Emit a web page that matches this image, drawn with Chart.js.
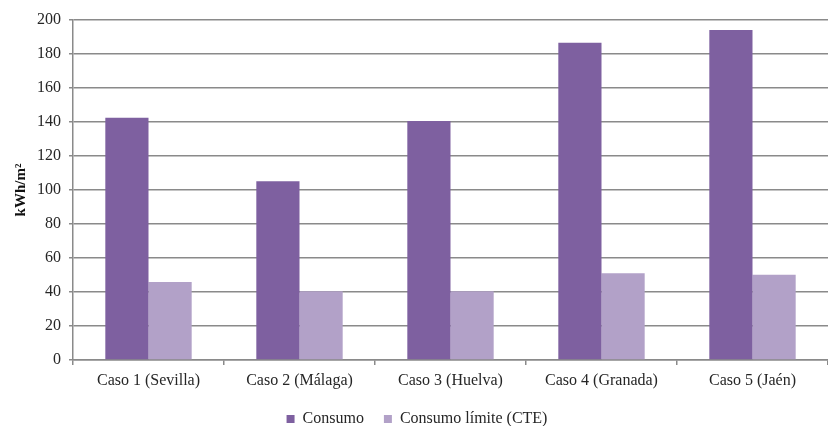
<!DOCTYPE html>
<html>
<head>
<meta charset="utf-8">
<script src="https://cdn.jsdelivr.net/npm/chart.js@4/dist/chart.umd.min.js"></script>
<style>
  html, body { margin: 0; padding: 0; background: #fff; }
  canvas { display: block; }
</style>
</head>
<body>
<canvas id="c" width="828" height="426"></canvas>
<script>
// Consumo energético por caso frente al límite del CTE (kWh/m²)
const categories = ['Caso 1 (Sevilla)', 'Caso 2 (Málaga)', 'Caso 3 (Huelva)', 'Caso 4 (Granada)', 'Caso 5 (Jaén)'];
const consumo = [142.5, 105.2, 140.6, 186.6, 194.1];
const consumoLimite = [45.9, 40.5, 40.5, 51.0, 50.2];
const yTicks = [0, 20, 40, 60, 80, 100, 120, 140, 160, 180, 200];

const serif = "'Liberation Serif', 'Times New Roman', serif";
const gridColor = '#8a8a8a';
const textColor = '#262626';

new Chart(document.getElementById('c'), {
  type: 'bar',
  data: {
    labels: categories,
    datasets: [
      { label: 'Consumo', data: consumo, backgroundColor: '#7E60A0', borderWidth: 0 },
      { label: 'Consumo límite (CTE)', data: consumoLimite, backgroundColor: '#B2A1C8', borderWidth: 0 }
    ]
  },
  options: {
    responsive: false,
    animation: false,
    devicePixelRatio: 1,
    // the plot runs slightly past the right edge of the canvas
    layout: { padding: { top: 20, right: -6, bottom: -11, left: 0 } },
    datasets: { bar: { barPercentage: 1.0, categoryPercentage: 0.572 } },
    plugins: {
      tooltip: { enabled: false },
      legend: {
        position: 'bottom',
        labels: {
          font: { family: serif, size: 16 },
          color: textColor,
          boxWidth: 8,
          boxHeight: 8,
          padding: 20
        }
      }
    },
    scales: {
      x: {
        grid: {
          offset: true,
          drawOnChartArea: false,
          drawTicks: true,
          tickLength: 5,
          color: gridColor,
          lineWidth: 1.5
        },
        border: { color: gridColor, width: 1.5 },
        ticks: {
          font: { family: serif, size: 16 },
          color: textColor,
          padding: 6,
          maxRotation: 0
        },
        afterFit(scale) { scale.height = 31; }
      },
      y: {
        min: 0,
        max: 200,
        afterBuildTicks(scale) { scale.ticks = yTicks.map(v => ({ value: v })); },
        grid: {
          color: gridColor,
          lineWidth: 1.5,
          drawTicks: true,
          tickLength: 4
        },
        border: { color: gridColor, width: 1.5 },
        ticks: {
          font: { family: serif, size: 16 },
          color: textColor,
          padding: 8
        },
        title: {
          display: true,
          text: 'kWh/m²',
          font: { family: serif, size: 15, weight: 'bold' },
          color: '#111',
          padding: { top: 12, bottom: 0 }
        },
        afterFit(scale) { scale.width = 73; }
      }
    }
  }
});
</script>
</body>
</html>
